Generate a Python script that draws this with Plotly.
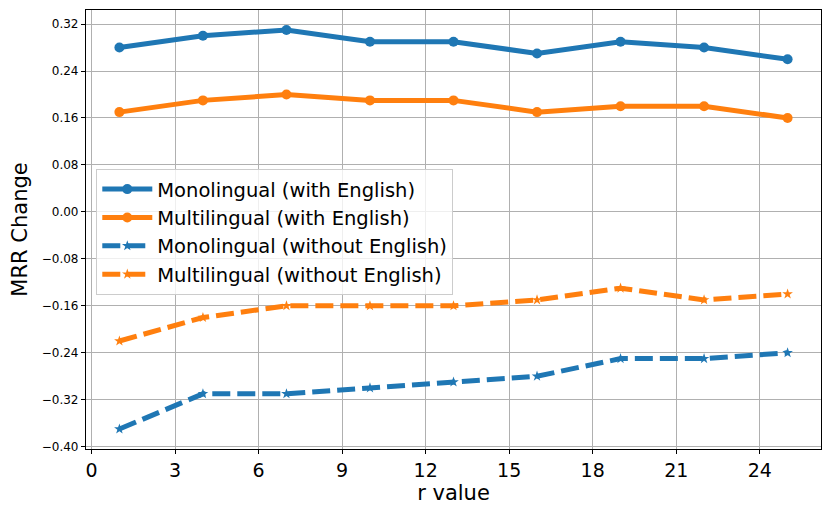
import plotly.graph_objects as go

# r values on the x axis
r_values = [1, 4, 7, 10, 13, 16, 19, 22, 25]

# MRR change per setting
mono_with = [0.28, 0.30, 0.31, 0.29, 0.29, 0.27, 0.29, 0.28, 0.26]
multi_with = [0.17, 0.19, 0.20, 0.19, 0.19, 0.17, 0.18, 0.18, 0.16]
mono_without = [-0.37, -0.31, -0.31, -0.30, -0.29, -0.28, -0.25, -0.25, -0.24]
multi_without = [-0.22, -0.18, -0.16, -0.16, -0.16, -0.15, -0.13, -0.15, -0.14]

blue = '#1f77b4'
orange = '#ff7f0e'
dash = '18px,7px'

fig = go.Figure()

fig.add_trace(go.Scatter(
    x=r_values, y=mono_with, name='Monolingual (with English)',
    mode='lines+markers', line=dict(color=blue, width=5),
    marker=dict(symbol='circle', size=10, color=blue)
))
fig.add_trace(go.Scatter(
    x=r_values, y=multi_with, name='Multilingual (with English)',
    mode='lines+markers', line=dict(color=orange, width=5),
    marker=dict(symbol='circle', size=10, color=orange)
))
fig.add_trace(go.Scatter(
    x=r_values, y=mono_without, name='Monolingual (without English)',
    mode='lines+markers', line=dict(color=blue, width=5, dash=dash),
    marker=dict(symbol='star', size=8, color=blue)
))
fig.add_trace(go.Scatter(
    x=r_values, y=multi_without, name='Multilingual (without English)',
    mode='lines+markers', line=dict(color=orange, width=5, dash=dash),
    marker=dict(symbol='star', size=8, color=orange)
))

axis_common = dict(
    showline=True, linecolor='black', linewidth=1.2, mirror=True,
    showgrid=True, gridcolor='#b0b0b0', gridwidth=1,
    ticks='outside', ticklen=4, tickcolor='black',
    zeroline=False,
)

fig.update_xaxes(
    range=[-0.2, 26.2], tick0=0, dtick=3,
    tickfont=dict(size=19, color='black'),
    title=dict(text='r value', font=dict(size=21, color='black'), standoff=2),
    **axis_common
)
fig.update_yaxes(
    range=[-0.404, 0.344], tick0=0, dtick=0.08, tickformat='.2f',
    tickfont=dict(size=12, color='black'),
    title=dict(text='MRR Change', font=dict(size=21, color='black'), standoff=8),
    **axis_common
)

fig.update_layout(
    width=830, height=512,
    margin=dict(l=78, r=17, t=2, b=71),
    paper_bgcolor='white', plot_bgcolor='white',
    font=dict(family='DejaVu Sans', color='black'),
    legend=dict(
        x=0.014, y=0.638, xanchor='left', yanchor='top',
        bgcolor='rgba(255,255,255,0.8)', bordercolor='#cccccc', borderwidth=1,
        font=dict(size=19.5), tracegroupgap=0, itemwidth=50,
    ),
)

fig.write_html('out.html')
